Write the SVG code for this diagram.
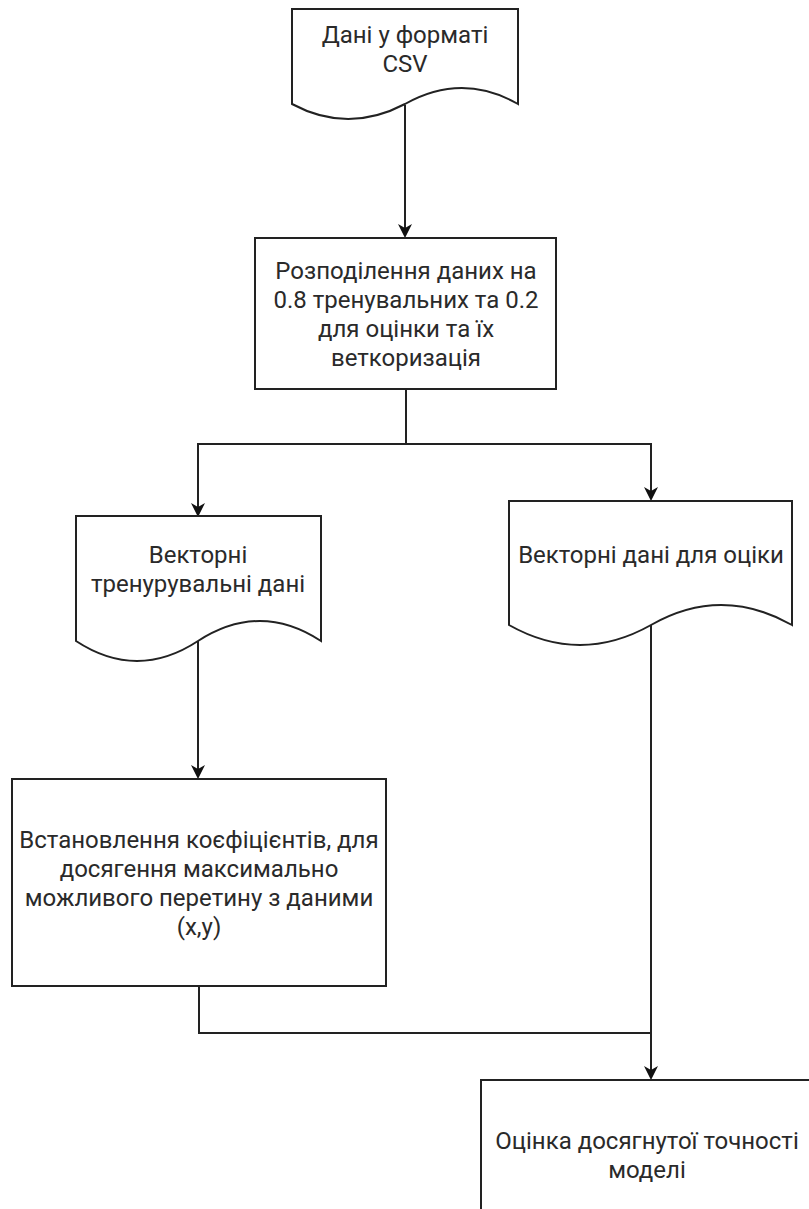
<svg xmlns="http://www.w3.org/2000/svg" width="809" height="1209" viewBox="0 0 809 1209">
<style>
.s{fill:#fff;stroke:#222;stroke-width:2}
.c{fill:none;stroke:#222;stroke-width:2}
text{font-family:Roboto,"Liberation Sans",sans-serif;font-size:24px;fill:#2a2a2a;text-anchor:middle}
</style>
<defs>
<marker id="a" markerWidth="14" markerHeight="14" refX="12" refY="7" orient="auto" markerUnits="userSpaceOnUse">
<path d="M0,0 L14,7 L0,14 L4,7 Z" fill="#111"/>
</marker>
</defs>
<rect width="809" height="1209" fill="#fff"/>
<g id="connectors">
<path class="c" d="M405,105 V236" marker-end="url(#a)"/>
<path class="c" d="M406,389 V444 H198 V515" marker-end="url(#a)"/>
<path class="c" d="M406,444 H651 V499" marker-end="url(#a)"/>
<path class="c" d="M198,641 V777" marker-end="url(#a)"/>
<path class="c" d="M199,986 V1033 H651"/>
<path class="c" d="M651,625 V1078" marker-end="url(#a)"/>
</g>
<g id="n1">
<path class="s" d="M292,9 H518 V104 Q462,72 405,104 Q348,134 292,104 Z"/>
<text x="405" y="43">Дані у форматі</text>
<text x="405" y="72">CSV</text>
</g>
<g id="n2">
<rect class="s" x="255" y="238" width="301" height="151"/>
<text x="406" y="279">Розподілення даних на</text>
<text x="406" y="308">0.8 тренувальних та 0.2</text>
<text x="406" y="337">для оцінки та їх</text>
<text x="406" y="366">веткоризація</text>
</g>
<g id="n3">
<path class="s" d="M76,516 H321 V641 Q260,601 198,641 Q137,681 76,641 Z"/>
<text x="198" y="563">Векторні</text>
<text x="198" y="592">тренурувальні дані</text>
</g>
<g id="n4">
<path class="s" d="M509,501 H792 V625 Q721,585 651,625 Q580,665 509,625 Z"/>
<text x="651" y="563">Векторні дані для оціки</text>
</g>
<g id="n5">
<rect class="s" x="12" y="779" width="374" height="207"/>
<text x="199" y="848">Встановлення коєфіцієнтів, для</text>
<text x="199" y="877">досягення максимально</text>
<text x="199" y="906">можливого перетину з даними</text>
<text x="199" y="935">(x,y)</text>
</g>
<g id="n6">
<rect class="s" x="481" y="1080" width="340" height="150"/>
<text x="647" y="1149">Оцінка досягнутої точності</text>
<text x="647" y="1178">моделі</text>
</g>
</svg>
